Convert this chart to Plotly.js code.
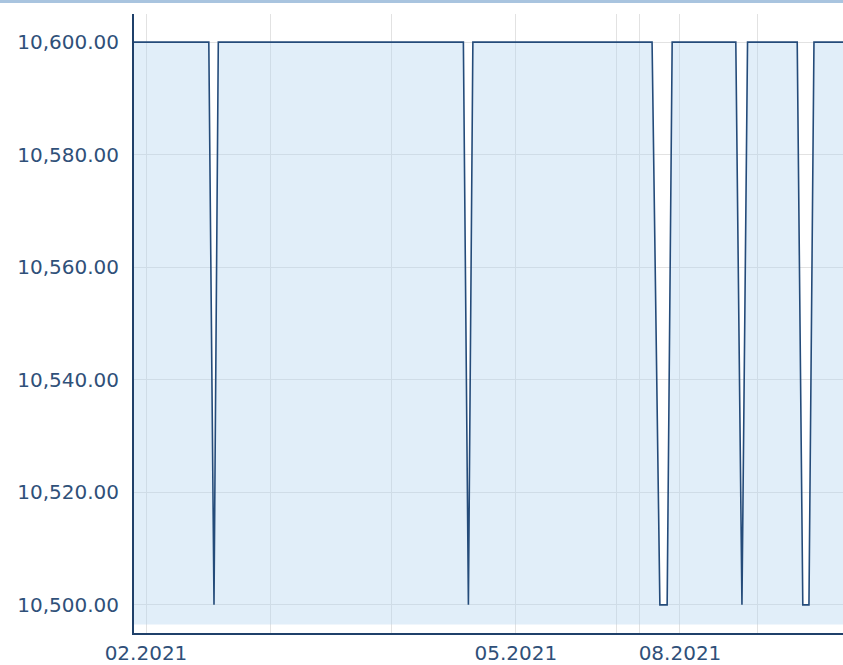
<!DOCTYPE html>
<html>
<head>
<meta charset="utf-8">
<script src="https://cdn.plot.ly/plotly-3.0.1.min.js"></script>
<style>
  html, body { margin: 0; padding: 0; background: #ffffff; overflow: hidden; }
  #chart { width: 843px; height: 662px; border-top: 3px solid #a9c4df; }
</style>
</head>
<body>
<div id="chart"></div>
<script>
// Observation position (ordinal, trading-day index) and price values
const obsPos   = [0, 13.4, 14.33, 15.1, 59.0, 59.9, 60.7, 92.8, 94.2, 95.5, 96.4, 107.8, 108.9, 109.9, 118.8, 119.8, 120.9, 121.8, 128];
const obsValue = [10600, 10600, 10500, 10600, 10600, 10500, 10600, 10600, 10500, 10500, 10600, 10600, 10500, 10600, 10600, 10500, 10500, 10600, 10600];

// Month boundaries on the ordinal axis and their labels
const monthPos    = [2.15, 24.4, 46.2, 68.4, 86.5, 90.6, 97.8, 111.7];
const monthLabels = ["02.2021", "", "", "05.2021", "", "", "08.2021", ""];

// Y ticks
const yTicks = [10500, 10520, 10540, 10560, 10580, 10600];

// Area baseline value
const baseValue = 10496.5;

const textColor = "#2f5079";
const lineColor = "#244b7a";

const baseline = {
  x: [obsPos[0], obsPos[obsPos.length - 1]],
  y: [baseValue, baseValue],
  type: "scatter",
  mode: "lines",
  line: { width: 0 },
  hoverinfo: "skip",
  showlegend: false
};

const series = {
  x: obsPos,
  y: obsValue,
  type: "scatter",
  mode: "lines",
  line: { color: lineColor, width: 1.6 },
  fill: "tonexty",
  fillcolor: "rgba(180,212,240,0.4)",
  showlegend: false
};

const layout = {
  width: 843,
  height: 662,
  margin: { l: 134, r: 0, t: 11, b: 32 },
  paper_bgcolor: "#ffffff",
  plot_bgcolor: "#ffffff",
  font: { family: "DejaVu Sans, Verdana, sans-serif", size: 20, color: textColor },
  showlegend: false,
  xaxis: {
    range: [0, 127],
    tickmode: "array",
    tickvals: monthPos,
    ticktext: monthLabels,
    showgrid: true,
    gridcolor: "#e2e2e2",
    gridwidth: 1,
    zeroline: false,
    showline: true,
    linecolor: "#1f406a",
    linewidth: 2,
    ticks: "",
    ticklabelstandoff: 1,
    tickfont: { size: 20, color: textColor }
  },
  yaxis: {
    range: [10495, 10605],
    tickmode: "array",
    tickvals: yTicks,
    tickformat: ",.2f",
    showgrid: true,
    gridcolor: "#e2e2e2",
    gridwidth: 1,
    zeroline: false,
    showline: true,
    linecolor: "#1f406a",
    linewidth: 2,
    ticks: "",
    ticklabelstandoff: 9,
    tickfont: { size: 20, color: textColor }
  }
};

Plotly.newPlot("chart", [baseline, series], layout, { displayModeBar: false, staticPlot: true });
</script>
</body>
</html>
